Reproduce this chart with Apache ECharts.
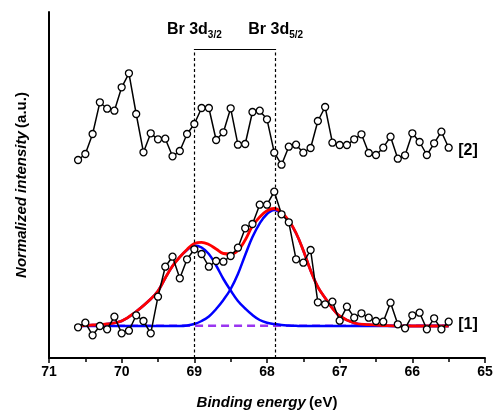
<!DOCTYPE html>
<html><head><meta charset="utf-8">
<script src="https://cdn.jsdelivr.net/npm/echarts@6/dist/echarts.min.js"></script>
<style>html,body{margin:0;padding:0;background:#fff}#c{width:493px;height:410px}</style>
</head><body><div id="c"></div>
<script>
// Binding energy (eV) of measured points
const energy = [70.6,70.5,70.4,70.3,70.2,70.1,70.0,69.9,69.8,69.7,69.6,69.5,69.4,69.3,69.2,69.1,69.0,68.9,68.8,68.7,68.6,68.5,68.4,68.3,68.2,68.1,68.0,67.9,67.8,67.7,67.6,67.5,67.4,67.3,67.2,67.1,67.0,66.9,66.8,66.7,66.6,66.5,66.4,66.3,66.2,66.1,66.0,65.9,65.8,65.7,65.6,65.5];
// Spectrum [1] (lower) and [2] (upper), arbitrary units
const spectrum1 = [30.7,35.3,22.7,32,28.7,41.3,24.7,27.3,42.7,37,24.7,61.3,91.3,101.3,79.7,98.7,108.7,104,91.3,97,96.3,102,110.3,129.7,134,153.3,153.3,166.3,143.7,135.7,98.7,95.3,108,55.7,53.7,56.3,37.3,51.3,40.3,44.7,40.3,37,36.3,55.3,33.7,29.7,42.7,45.3,28.7,39.7,28.7,36.3];
const spectrum2 = [198,204,224,255.7,249.3,247.3,270.7,284.7,244,205.7,224.7,218.7,219.3,201.7,207,224,234,250,250,218,225.7,249.7,213.3,214,246,247.3,238.7,205.3,193.3,211.3,213.3,205.3,210,237,251,215.3,213,213,218.7,223.7,205,203,210.3,221.3,199.3,202.7,224.7,216,203,214.7,226.3,210.3];
const seriesNames = ['[1]', '[2]'];
// Fit curves
const fitEnergy = [70.6,70.4,70.2,70.0,69.8,69.6,69.5,69.4,69.3,69.2,69.1,69.0,68.9,68.8,68.7,68.6,68.5,68.4,68.3,68.2,68.1,68.0,67.9,67.8,67.7,67.6,67.5,67.4,67.3,67.2,67.1,67.0,66.8,66.6,66.4,66.2,66.0,65.8,65.5];
const fitTotal = [32,33,34,37,46.5,59,67,80,92,101,108.5,114.5,115.7,113.5,109,104.5,104,107.5,118,132,141,147.3,149.5,145.5,137.5,125,107.5,87.5,71,60,49.7,42,35,33.3,32.5,32,32,32,32];
const peak32 = [32,33,34,37,46.5,59,67,80,92,101,108,112.5,110.5,104,92.5,79,67.5,57,49.5,43,38,35.3,34,33,32.5,32.2,32,32,32,32,32,32,32,32,32,32,32,32,32];
const peak52 = [32,32,32,32,32,32,32,32,32,32,32.5,34,37,41.5,49,58,69,84,103,121,134.7,144,148,144.5,137,124.8,107.5,87.5,71,60,49.7,42,35,33.3,32.5,32,32,32,32];
const baselineValue = 32.3;
const peakPositions = [69.0, 67.88];
const peakNames = ['3/2', '5/2'];
const markerTop = 309;

const FONT = 'Liberation Sans, Arial, sans-serif';
const pairs = (xs, ys) => xs.map((x, i) => [x, ys[i]]);
const chart = echarts.init(document.getElementById('c'), null, {renderer: 'canvas'});
const dotted = {color: '#000', width: 1.2, type: [3, 2.5]};
const peakLabel = name => ({
  show: true, position: 'end', distance: 9, color: '#000',
  fontFamily: FONT, fontSize: 16, fontWeight: 'bold',
  formatter: 'Br 3d{s|' + name + '}',
  rich: {s: {fontSize: 10, fontWeight: 'bold', color: '#000', padding: [10, 0, 0, 0], fontFamily: FONT}}
});
const dataSeries = (vals, label) => {
  const last = energy.length - 1;
  return {
    type: 'line', data: pairs(energy, vals), z: 10,
    symbol: 'circle', symbolSize: 7, showAllSymbol: true,
    lineStyle: {color: '#000', width: 1.5},
    itemStyle: {color: '#fff', borderColor: '#000', borderWidth: 1.3},
    markPoint: {silent: true, animation: false, symbol: 'circle', symbolSize: 1,
      itemStyle: {color: 'rgba(0,0,0,0)'},
      data: [{coord: [energy[last], vals[last]],
        label: {show: true, position: 'right', distance: 9, offset: [0, 3], formatter: label, color: '#000',
          fontFamily: FONT, fontSize: 16, fontWeight: 'bold'}}]}
  };
};

chart.setOption({
  animation: false,
  backgroundColor: '#fff',
  grid: {left: 49, right: 8, top: 12, bottom: 52, containLabel: false, outerBoundsMode: 'none'},
  xAxis: {
    type: 'value', inverse: true, min: 65, max: 71, interval: 1,
    axisLine: {lineStyle: {color: '#000', width: 2}},
    axisTick: {length: 5, lineStyle: {color: '#000', width: 1.5}},
    minorTick: {show: true, splitNumber: 2, length: 4, lineStyle: {color: '#000', width: 1.5}},
    splitLine: {show: false},
    axisLabel: {color: '#000', fontSize: 14, fontWeight: 'bold', margin: 7, fontFamily: FONT},
    name: '{i|Binding energy} {n|(eV)}', nameLocation: 'middle', nameGap: 37,
    nameTextStyle: {rich: {
      i: {fontSize: 15, fontStyle: 'italic', fontWeight: 'bold', color: '#000', fontFamily: FONT},
      n: {fontSize: 15, fontWeight: 'bold', color: '#000', fontFamily: FONT}}}
  },
  yAxis: {
    type: 'value', min: 0, max: 346,
    axisLine: {show: true, lineStyle: {color: '#000', width: 2}},
    axisTick: {show: false}, axisLabel: {show: false}, splitLine: {show: false},
    name: '{i|Normalized intensity} {n|(a.u.)}', nameLocation: 'middle', nameGap: 20,
    nameTextStyle: {rich: {
      i: {fontSize: 15, fontStyle: 'italic', fontWeight: 'bold', color: '#000', fontFamily: FONT},
      n: {fontSize: 15, fontWeight: 'bold', color: '#000', fontFamily: FONT}}}
  },
  series: [
    {type: 'line', data: [[fitEnergy[0], baselineValue], [fitEnergy[fitEnergy.length - 1], baselineValue]],
     symbol: 'none', z: 2, lineStyle: {color: '#9A35F0', width: 2.4, type: [8, 5]},
     markLine: {silent: true, symbol: ['none', 'none'], animation: false,
       data: [
         [{coord: [peakPositions[0], 0], lineStyle: dotted, label: peakLabel(peakNames[0])}, {coord: [peakPositions[0], markerTop]}],
         [{coord: [peakPositions[1], 0], lineStyle: dotted, label: peakLabel(peakNames[1])}, {coord: [peakPositions[1], markerTop]}],
         [{coord: [peakPositions[0], markerTop], lineStyle: {color: '#000', width: 1, type: 'solid'}, label: {show: false}}, {coord: [peakPositions[1], markerTop]}]
       ]}},
    {type: 'line', data: pairs(fitEnergy, peak32), symbol: 'none', smooth: 0.4, z: 3, lineStyle: {color: '#0000FF', width: 2.5}},
    {type: 'line', data: pairs(fitEnergy, peak52), symbol: 'none', smooth: 0.4, z: 3, lineStyle: {color: '#0000FF', width: 2.5}},
    {type: 'line', data: pairs(fitEnergy, fitTotal), symbol: 'none', smooth: 0.4, z: 4, lineStyle: {color: '#FF0000', width: 2.8}},
    dataSeries(spectrum1, seriesNames[0]),
    dataSeries(spectrum2, seriesNames[1])
  ]
});
</script>
</body></html>
